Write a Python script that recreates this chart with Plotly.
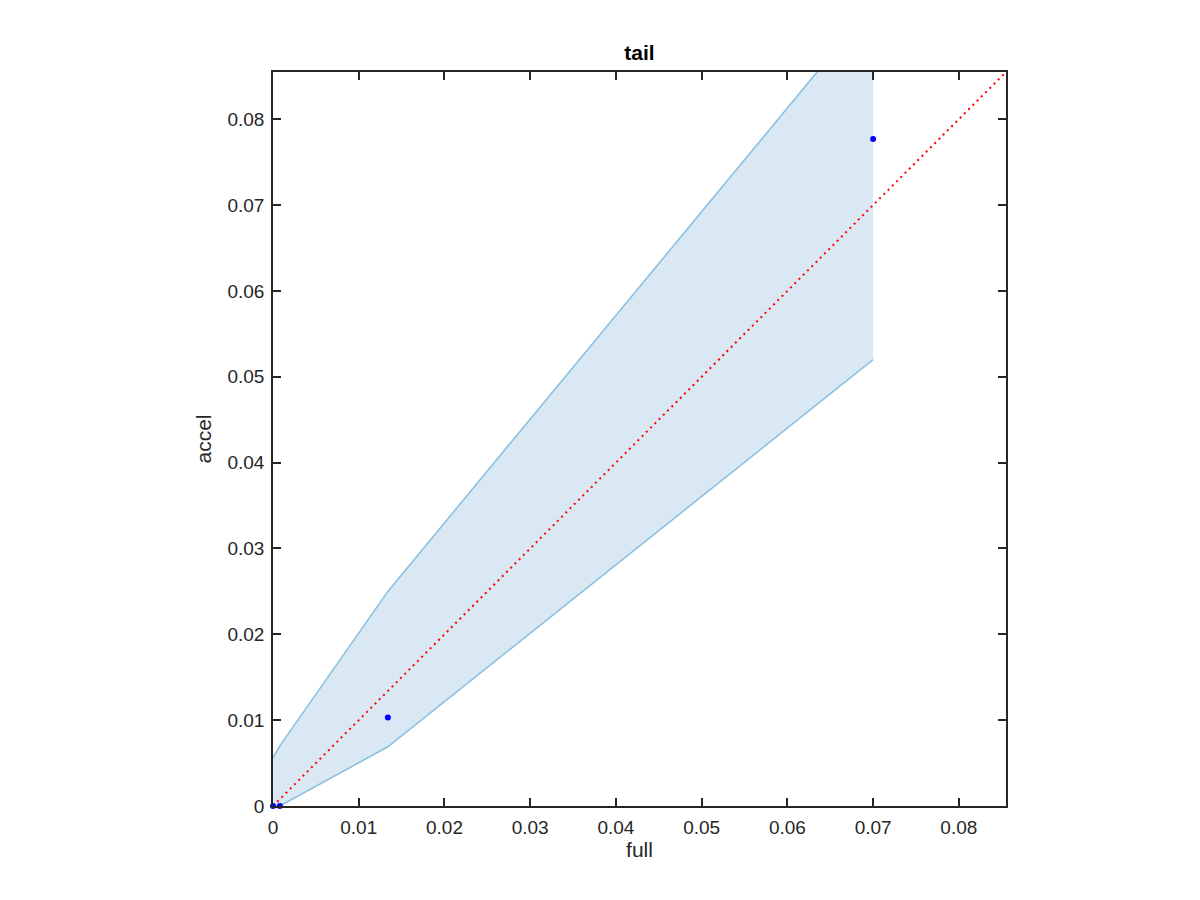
import plotly.graph_objects as go

# data
band_x = [0.0, 0.0008, 0.0134, 0.07]
band_upper = [0.0056, 0.0070, 0.0250, 0.0934]
band_lower = [0.0, 0.0, 0.0069, 0.0520]
pts_x = [0.0, 0.0008, 0.0134, 0.07]
pts_y = [0.0, 0.0, 0.0103, 0.0777]
axis_max = 0.0855
diag = [0.0, axis_max]

fill_color = "rgba(218,232,243,1)"
edge_color = "rgb(140,192,225)"
FONT = "Liberation Sans, Arial, Helvetica, sans-serif"

fig = go.Figure()
# filled band polygon
fig.add_trace(go.Scatter(
    x=band_x + band_x[::-1], y=band_upper + band_lower[::-1],
    fill="toself", fillcolor=fill_color, mode="none", hoverinfo="skip", showlegend=False))
fig.add_trace(go.Scatter(x=band_x, y=band_upper, mode="lines",
                         line=dict(color=edge_color, width=1.6), showlegend=False))
fig.add_trace(go.Scatter(x=band_x, y=band_lower, mode="lines",
                         line=dict(color=edge_color, width=1.6), showlegend=False))
fig.add_trace(go.Scatter(x=diag, y=diag, mode="lines",
                         line=dict(color="red", width=2, dash="2px,4px"), showlegend=False))
fig.add_trace(go.Scatter(x=pts_x, y=pts_y, mode="markers", cliponaxis=False,
                         marker=dict(color="blue", size=6), showlegend=False))

axis_common = dict(
    range=[0, axis_max], dtick=0.01, tick0=0, showgrid=False, zeroline=False,
    showline=True, linecolor="#262626", linewidth=1.5, mirror="ticks",
    ticks="inside", ticklen=8, tickcolor="#262626", tickwidth=1.5,
    tickfont=dict(family=FONT, size=19, color="#262626"),
    title_font=dict(family=FONT, size=21, color="#262626"),
)

fig.update_layout(
    width=1200, height=900,
    margin=dict(l=265, r=202, t=64, b=102),
    plot_bgcolor="white", paper_bgcolor="white",
    title=dict(text="<b>tail</b>", x=(265 + 998) / 2 / 1200, xanchor="center",
               y=1 - 45 / 900, yanchor="middle",
               font=dict(family=FONT, size=21, color="black")),
    xaxis=dict(axis_common, ticklabelstandoff=3, title=dict(text="full", standoff=4)),
    yaxis=dict(axis_common, ticklabelstandoff=3, title=dict(text="accel", standoff=10)),
)

fig.write_html("out.html")
